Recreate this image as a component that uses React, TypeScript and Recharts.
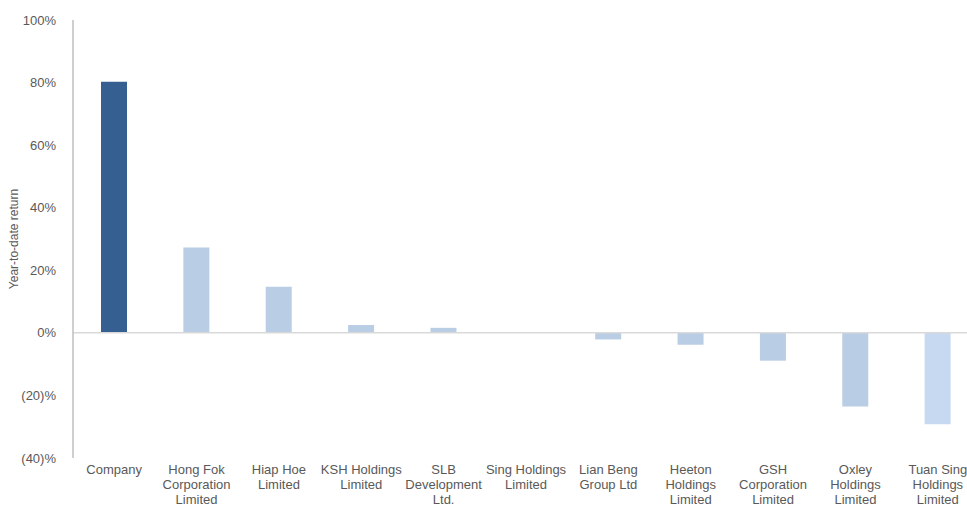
import { BarChart, Bar, XAxis, YAxis, ReferenceLine, Cell } from "recharts";

const companies = [
  "Company",
  "Hong Fok\nCorporation\nLimited",
  "Hiap Hoe\nLimited",
  "KSH Holdings\nLimited",
  "SLB\nDevelopment\nLtd.",
  "Sing Holdings\nLimited",
  "Lian Beng\nGroup Ltd",
  "Heeton\nHoldings\nLimited",
  "GSH\nCorporation\nLimited",
  "Oxley\nHoldings\nLimited",
  "Tuan Sing\nHoldings\nLimited",
];

const ytdReturn = [80.3, 27.3, 14.7, 2.5, 1.6, 0, -2.1, -3.8, -8.9, -23.5, -29.2];

const barColors = [
  "#365f91", "#b9cde5", "#b9cde5", "#b9cde5", "#b9cde5", "#b9cde5",
  "#b9cde5", "#b9cde5", "#b9cde5", "#b9cde5", "#c6d9f1",
];

const yTicks = [-40, -20, 0, 20, 40, 60, 80, 100];

const data = companies.map((name, i) => ({ name, value: ytdReturn[i] }));

const fmtPct = (v: number) => (v < 0 ? `(${Math.abs(v)})%` : `${v}%`);

const CategoryTick = (props: any) => {
  const { x, y, payload } = props;
  const lines = String(payload.value).split("\n");
  return (
    <g transform={`translate(${x},${y})`}>
      {lines.map((ln: string, i: number) => (
        <text
          key={i}
          x={0}
          y={i * 14.8}
          dy={8}
          textAnchor="middle"
          fill="#595959"
          fontSize={13}
          fontFamily="Liberation Sans, Arial, sans-serif"
        >
          {ln}
        </text>
      ))}
    </g>
  );
};

const App = () => {
  return (
    <div style={{ position: "absolute", left: 0, top: 0, width: 967, height: 506, background: "#fff" }}>
      <BarChart
        width={967}
        height={506}
        data={data}
        margin={{ top: 20, right: -12, bottom: 0, left: 0 }}
      >
        <XAxis
          dataKey="name"
          height={48}
          axisLine={false}
          tickLine={false}
          interval={0}
          tick={<CategoryTick />}
        />
        <YAxis
          width={73}
          domain={[-40, 100]}
          ticks={yTicks}
          tickFormatter={fmtPct}
          axisLine={{ stroke: "#bfbfbf", strokeWidth: 1.5 }}
          tickLine={false}
          tick={{ fill: "#595959", fontSize: 13, fontFamily: "Liberation Sans, Arial, sans-serif" }}
          tickMargin={11}
          label={{
            value: "Year-to-date return",
            angle: -90,
            position: "insideLeft",
            offset: 14,
            style: { fill: "#595959", fontSize: 12, fontFamily: "Liberation Sans, Arial, sans-serif", textAnchor: "middle" },
          }}
        />
        <ReferenceLine y={0} stroke="#d9d9d9" strokeWidth={1.5} />
        <Bar dataKey="value" barSize={26} isAnimationActive={false}>
          {data.map((d, i) => (
            <Cell key={d.name} fill={barColors[i]} />
          ))}
        </Bar>
      </BarChart>
    </div>
  );
};

export default App;
